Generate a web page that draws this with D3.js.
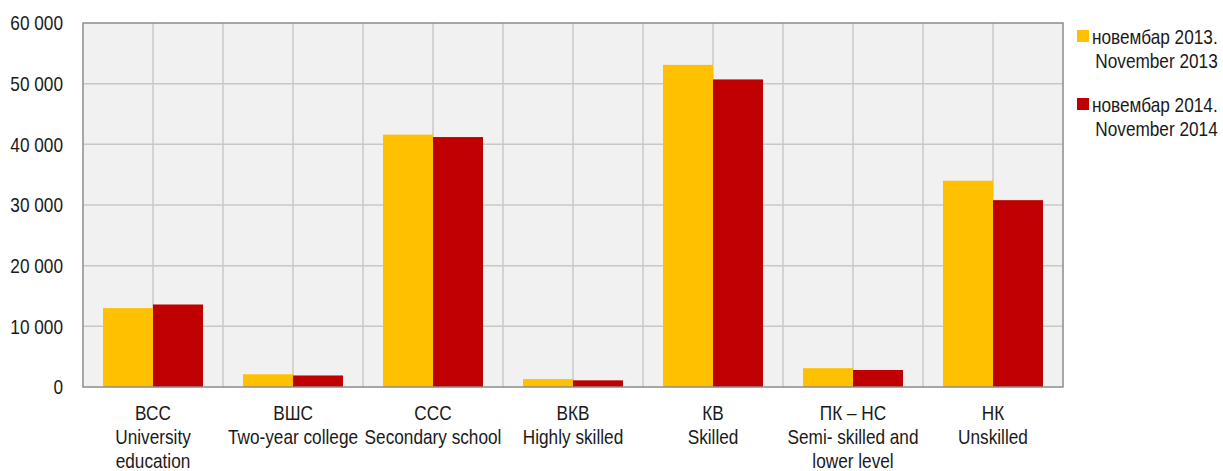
<!DOCTYPE html>
<html>
<head>
<meta charset="utf-8">
<script src="https://cdn.jsdelivr.net/npm/d3@7"></script>
<style>
  body { margin: 0; background: #fff; }
  svg { display: block; font-family: "Liberation Sans", Arial, sans-serif; }
  .axis text { font-size: 21px; fill: #1a1a1a; }
  .axis path, .axis line { stroke: none; }
  .grid line { stroke: #c8c8c8; stroke-width: 1.5; }
  .cat-label { font-size: 21px; fill: #1a1a1a; }
  .legend text { font-size: 21px; fill: #1a1a1a; }
</style>
</head>
<body>
<div id="chart"></div>
<script>
const categories = ["ВСС", "ВШС", "ССС", "ВКВ", "КВ", "ПК – НС", "НК"];
const categoryNames = [
    ["University", "education"],
    ["Two-year college"],
    ["Secondary school"],
    ["Highly skilled"],
    ["Skilled"],
    ["Semi- skilled and", "lower level"],
    ["Unskilled"]
];
const seriesNames = ["2013", "2014"];
const seriesLabels = [
    ["новембар 2013.", "November 2013"],
    ["новембар 2014.", "November 2014"]
];
const values2013 = [13000, 2100, 41600, 1300, 53100, 3100, 34000];
const values2014 = [13600, 1900, 41200, 1100, 50700, 2800, 30800];
const yTicks = [0, 10000, 20000, 30000, 40000, 50000, 60000];
const colors = ["#ffc000", "#c00000"];

// narrow look: Arial-metric font squeezed horizontally
const narrow = 0.82;

const margin = { top: 23, right: 160, bottom: 84, left: 83 };
const W = 1223, H = 471;
const width = W - margin.left - margin.right;
const height = H - margin.top - margin.bottom;

const data = categories.map((c, i) => ({ cat: c, vals: [values2013[i], values2014[i]] }));

const x0 = d3.scaleBand().domain(categories).range([0, width]).padding(0);
const x1 = d3.scaleBand().domain(seriesNames).range([0, x0.bandwidth()]).paddingInner(0).paddingOuter(0.4);
const y = d3.scaleLinear().domain([0, 60000]).range([height, 0]);

const svg = d3.select("#chart").append("svg")
    .attr("width", W).attr("height", H)
    .append("g")
    .attr("transform", `translate(${margin.left},${margin.top})`);

// plot background
svg.append("rect")
    .attr("width", width).attr("height", height)
    .attr("fill", "#f1f1f1");

// horizontal grid
svg.append("g").attr("class", "grid")
    .selectAll("line").data(yTicks.slice(1, -1)).join("line")
    .attr("x1", 0).attr("x2", width)
    .attr("y1", d => y(d)).attr("y2", d => y(d));

// vertical grid: band edges and band centers
const vLines = [];
categories.forEach(c => {
    vLines.push(x0(c));
    vLines.push(x0(c) + x0.bandwidth() / 2);
});
svg.append("g").attr("class", "grid")
    .selectAll("line").data(vLines.slice(1)).join("line")
    .attr("x1", d => d).attr("x2", d => d)
    .attr("y1", 0).attr("y2", height);

// bars
const groups = svg.selectAll("g.cat").data(data).join("g")
    .attr("class", "cat")
    .attr("transform", d => `translate(${x0(d.cat)},0)`);

groups.selectAll("rect")
    .data(d => d.vals.map((v, i) => ({ key: seriesNames[i], v, i })))
    .join("rect")
    .attr("x", d => x1(d.key))
    .attr("width", x1.bandwidth())
    .attr("y", d => y(d.v))
    .attr("height", d => height - y(d.v))
    .attr("fill", d => colors[d.i]);

// plot border
svg.append("rect")
    .attr("width", width).attr("height", height)
    .attr("fill", "none")
    .attr("stroke", "#8c8c8c")
    .attr("stroke-width", 1.5);

// y axis
svg.append("g").attr("class", "axis")
    .call(d3.axisLeft(y).tickValues(yTicks).tickSize(0).tickPadding(20)
        .tickFormat(d => d3.format(",")(d).replace(/,/g, " ")))
    .selectAll("text")
    .attr("x", null)
    .attr("transform", `translate(-20,0) scale(${narrow},1)`);

// category labels
const labels = svg.selectAll("text.cat-label").data(categories).join("text")
    .attr("class", "cat-label")
    .attr("text-anchor", "middle")
    .attr("transform", d => `translate(${x0(d) + x0.bandwidth() / 2},${height + 33}) scale(${narrow},1)`);
labels.each(function(d, i) {
    const el = d3.select(this);
    [d].concat(categoryNames[i]).forEach((t, j) => {
        el.append("tspan")
            .attr("x", 0)
            .attr("dy", j === 0 ? 0 : 24)
            .text(t);
    });
});

// legend
const legend = svg.append("g").attr("class", "legend")
    .attr("transform", `translate(${width + 14},0)`);
seriesLabels.forEach((lines, i) => {
    const g = legend.append("g").attr("transform", `translate(0,${7 + i * 68})`);
    g.append("rect").attr("x", 0).attr("y", 0).attr("width", 12).attr("height", 12).attr("fill", colors[i]);
    const t = g.append("text").attr("transform", `translate(15,14) scale(${narrow},1)`);
    lines.forEach((l, j) => {
        t.append("tspan").attr("x", j === 0 ? 0 : 4).attr("dy", j === 0 ? 0 : 24).text(l);
    });
});
</script>
</body>
</html>
